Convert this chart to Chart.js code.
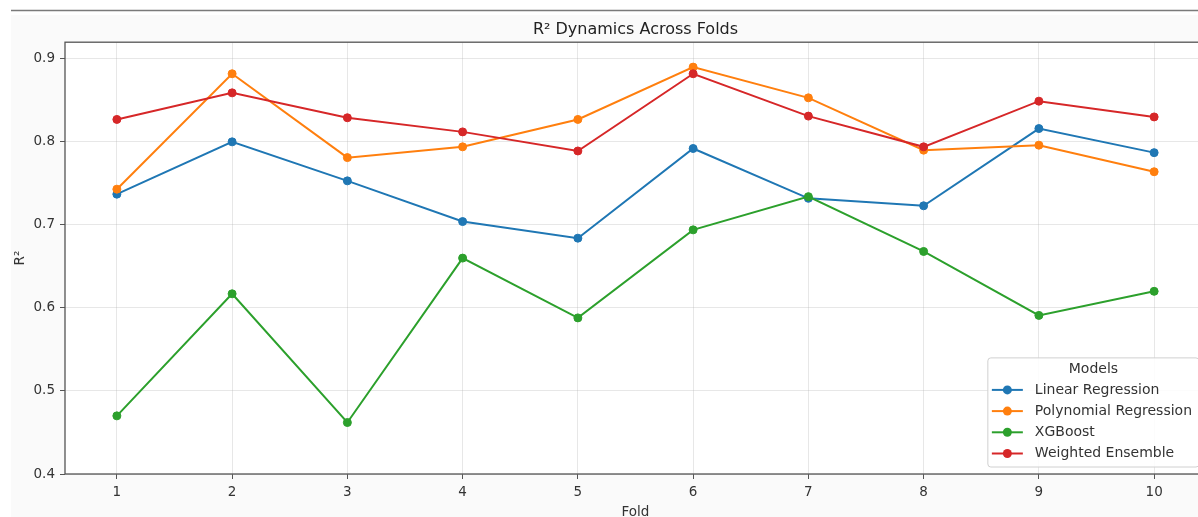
<!DOCTYPE html>
<html>
<head>
<meta charset="utf-8">
<script src="https://cdn.jsdelivr.net/npm/chart.js@4.4.1/dist/chart.umd.min.js"></script>
<style>
html,body{margin:0;padding:0;background:#fff;overflow:hidden;}
#wrap{position:relative;width:1212px;height:522px;}
</style>
</head>
<body>
<div id="wrap"><canvas id="c" width="1212" height="522"></canvas></div>
<script>
// ---- data ----
const folds = [1, 2, 3, 4, 5, 6, 7, 8, 9, 10];
const linearRegression     = [0.737, 0.800, 0.753, 0.704, 0.684, 0.792, 0.732, 0.723, 0.816, 0.787];
const polynomialRegression = [0.743, 0.882, 0.781, 0.794, 0.827, 0.890, 0.853, 0.790, 0.796, 0.764];
const xgboost              = [0.470, 0.617, 0.462, 0.660, 0.588, 0.694, 0.734, 0.668, 0.591, 0.620];
const weightedEnsemble     = [0.827, 0.859, 0.829, 0.812, 0.789, 0.882, 0.831, 0.794, 0.849, 0.830];
const seriesNames  = ['Linear Regression', 'Polynomial Regression', 'XGBoost', 'Weighted Ensemble'];
const seriesColors = ['#1f77b4', '#ff7f0e', '#2ca02c', '#d62728'];
const yTicks = [0.4, 0.5, 0.6, 0.7, 0.8, 0.9];
const chartTitle = 'R² Dynamics Across Folds';
const xTitle = 'Fold';
const yTitle = 'R²';
const legendTitle = 'Models';

const FONT = '"DejaVu Sans", sans-serif';
const allSeries = [linearRegression, polynomialRegression, xgboost, weightedEnsemble];

const datasets = allSeries.map((vals, i) => ({
  label: seriesNames[i],
  data: folds.map((f, j) => ({x: f, y: vals[j]})),
  borderColor: seriesColors[i],
  backgroundColor: seriesColors[i],
  pointBackgroundColor: seriesColors[i],
  pointBorderColor: seriesColors[i],
  pointRadius: 4,
  pointBorderWidth: 1,
  borderWidth: 2,
  tension: 0,
  fill: false,
  order: allSeries.length - 1 - i
}));

const framePlugin = {
  id: 'frame',
  beforeDraw(chart) {
    const ctx = chart.ctx;
    ctx.save();
    ctx.fillStyle = '#ffffff';
    ctx.fillRect(0, 0, chart.width, chart.height);
    ctx.fillStyle = '#fafafa';
    ctx.fillRect(11, 15, chart.width - 11, chart.height - 15);
    const ca = chart.chartArea;
    ctx.fillStyle = '#ffffff';
    ctx.fillRect(ca.left, ca.top, ca.right - ca.left, ca.bottom - ca.top);
    ctx.strokeStyle = '#7a7a7a';
    ctx.lineWidth = 1.3;
    ctx.beginPath();
    ctx.moveTo(11, 10.5);
    ctx.lineTo(chart.width, 10.5);
    ctx.stroke();
    ctx.restore();
  },
  afterDraw(chart) {
    const ctx = chart.ctx;
    const ca = chart.chartArea;
    ctx.save();
    // spines
    ctx.strokeStyle = '#555';
    ctx.lineWidth = 1.3;
    ctx.strokeRect(ca.left, ca.top, ca.right - ca.left, ca.bottom - ca.top);
    // legend
    const fs = 14;
    ctx.font = fs + 'px ' + FONT;
    const textW = Math.max(...seriesNames.map(n => ctx.measureText(n).width));
    const right = ca.right - 7;
    const bottom = ca.bottom - 7;
    const pad = 6;
    const handleW = 31;
    const left = right - (pad + 5 + handleW + 12 + textW);
    const rowH = 21.2;
    const top = bottom - (13.5 + rowH * (seriesNames.length - 1) + 21.5 + 10.5);
    ctx.globalAlpha = 0.85;
    ctx.fillStyle = '#ffffff';
    ctx.beginPath();
    if (ctx.roundRect) ctx.roundRect(left, top, right - left, bottom - top, 3); else ctx.rect(left, top, right - left, bottom - top);
    ctx.fill();
    ctx.globalAlpha = 1;
    ctx.strokeStyle = '#d0d0d0';
    ctx.lineWidth = 1;
    ctx.stroke();
    ctx.fillStyle = '#333';
    ctx.textAlign = 'center';
    ctx.textBaseline = 'middle';
    ctx.fillText(legendTitle, (left + right) / 2, top + 11);
    const lastY = bottom - 13.5;
    seriesNames.forEach((name, i) => {
      const y = lastY - rowH * (seriesNames.length - 1 - i);
      const hx = left + 4;
      ctx.strokeStyle = seriesColors[i];
      ctx.lineWidth = 2;
      ctx.beginPath();
      ctx.moveTo(hx, y);
      ctx.lineTo(hx + handleW, y);
      ctx.stroke();
      ctx.fillStyle = seriesColors[i];
      ctx.beginPath();
      ctx.arc(hx + handleW / 2, y, 4.5, 0, Math.PI * 2);
      ctx.fill();
      ctx.fillStyle = '#333';
      ctx.textAlign = 'left';
      ctx.fillText(name, hx + handleW + 12, y);
    });
    ctx.restore();
  }
};

new Chart(document.getElementById('c'), {
  type: 'line',
  data: { datasets },
  options: {
    responsive: false,
    animation: false,
    devicePixelRatio: 1,
    layout: { padding: { top: 14, right: 6, left: 0, bottom: 0 } },
    plugins: {
      legend: { display: false },
      tooltip: { enabled: false },
      title: {
        display: true,
        text: chartTitle,
        fullSize: false,
        color: '#222',
        font: { family: FONT, size: 16, weight: 'normal' },
        padding: { top: 6, bottom: 3 }
      }
    },
    scales: {
      x: {
        type: 'linear',
        min: 0.55,
        max: 10.45,
        afterBuildTicks: s => { s.ticks = folds.map(v => ({ value: v })); },
        afterFit: s => { s.height = 48; },
        ticks: {
          color: '#333',
          font: { family: FONT, size: 13.5 },
          padding: 5,
          autoSkip: false,
          maxRotation: 0,
          callback: v => String(v)
        },
        grid: { color: 'rgba(176,176,176,0.3)', lineWidth: 1, tickLength: 5, tickColor: '#555', drawTicks: true },
        border: { display: false },
        title: { display: true, text: xTitle, color: '#333', font: { family: FONT, size: 13.5 }, padding: { top: 0, bottom: 1 } }
      },
      y: {
        type: 'linear',
        min: 0.4,
        max: 0.92,
        afterBuildTicks: s => { s.ticks = yTicks.map(v => ({ value: v })); },
        afterFit: s => { s.width = 65; },
        ticks: {
          color: '#333',
          font: { family: FONT, size: 13.5 },
          padding: 5,
          callback: v => Number(v).toFixed(1)
        },
        grid: { color: 'rgba(176,176,176,0.3)', lineWidth: 1, tickLength: 5, tickColor: '#555', drawTicks: true },
        border: { display: false },
        title: { display: true, text: yTitle, color: '#333', font: { family: FONT, size: 13.5 }, padding: { top: 12, bottom: 0 } }
      }
    }
  },
  plugins: [framePlugin]
});
</script>
</body>
</html>
